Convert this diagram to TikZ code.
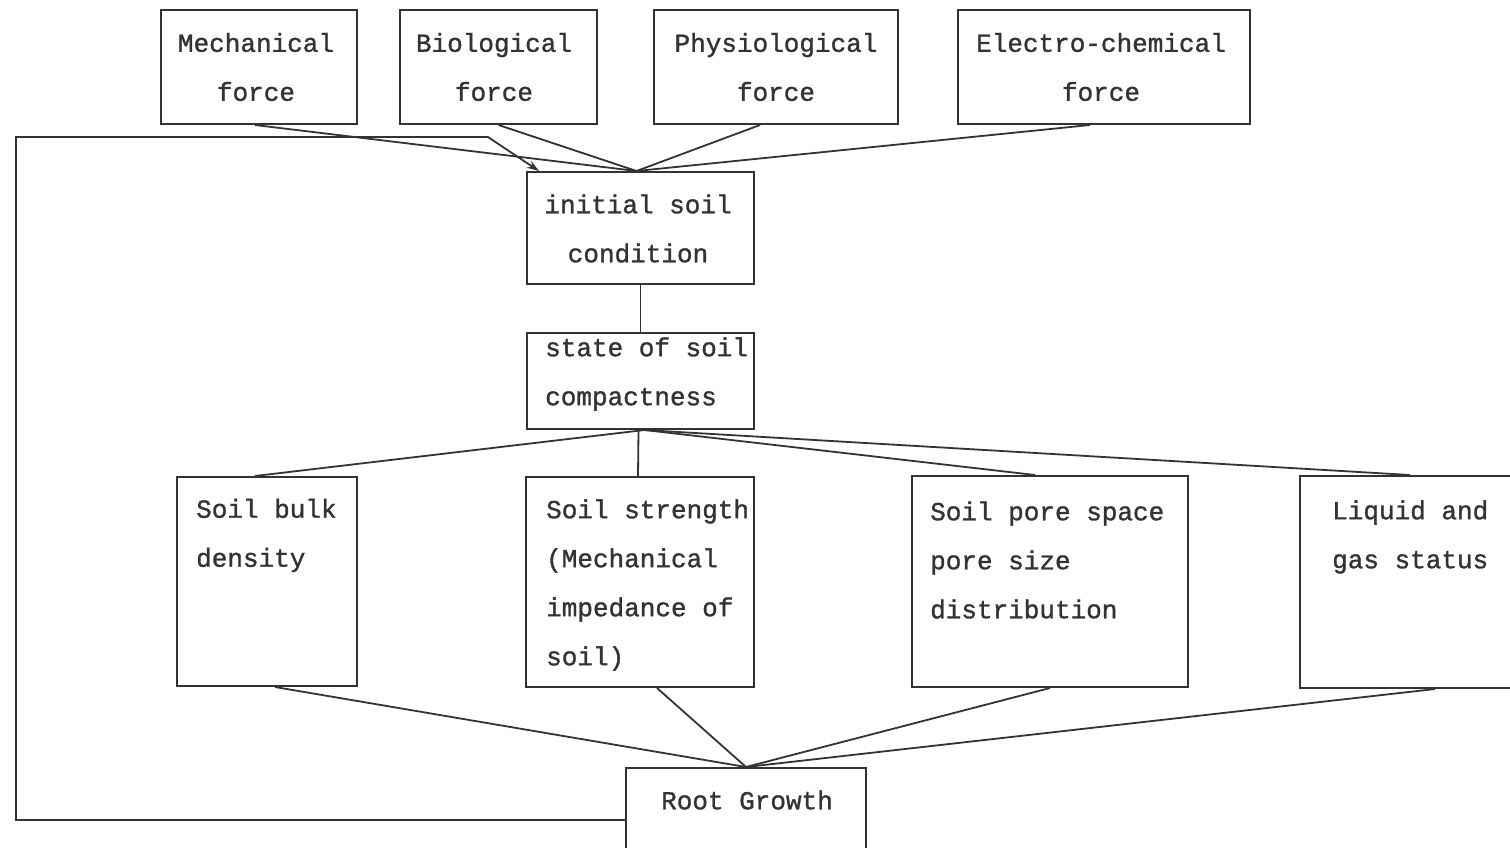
\documentclass[tikz,border=0pt]{standalone}
\usepackage{fontspec}
\newfontfamily\tw{Liberation Mono}[FakeBold=1.2]
\usetikzlibrary{arrows.meta,calc}
\definecolor{ink}{HTML}{333333}
\tikzset{
  box/.style={draw=ink, line width=2pt, inner sep=0pt, rectangle},
  conn/.style={draw=ink, line width=1.8pt},
  txt/.style={inner sep=0pt, text=ink, font={\tw\fontsize{26}{49}\selectfont}},
  ctxt/.style={txt, align=center},
  ltxt/.style={txt, align=left, anchor=west},
}
\begin{document}
\begin{tikzpicture}[x=1pt,y=-1pt]
\useasboundingbox (0,0) rectangle (1510,847);
% boxes
\node[box, minimum width=196pt, minimum height=114pt] (mech) at (259,67) {};
\node[box, minimum width=197pt, minimum height=114pt] (bio) at (498.5,67) {};
\node[box, minimum width=244pt, minimum height=114pt] (phys) at (776,67) {};
\node[box, minimum width=292pt, minimum height=114pt] (elec) at (1104,67) {};
\node[box, minimum width=227pt, minimum height=112pt] (init) at (640.5,228) {};
\node[box, minimum width=227pt, minimum height=96pt] (state) at (640.5,381) {};
\node[box, minimum width=180pt, minimum height=209pt] (bulk) at (267,581.5) {};
\node[box, minimum width=228pt, minimum height=210pt] (strength) at (640,582) {};
\node[box, minimum width=276pt, minimum height=211pt] (pore) at (1050,581.5) {};
\node[box, minimum width=220pt, minimum height=212pt] (liquid) at (1410,582) {};
\node[box, minimum width=240pt, minimum height=88pt] (root) at (746,812) {};
% texts
\node[ctxt] (tmech) at (256,67) {Mechanical\\force};
\node[ctxt] (tbio) at (494,67) {Biological\\force};
\node[ctxt] (tphys) at (776,67) {Physiological\\force};
\node[ctxt] (telec) at (1101,67) {Electro-chemical\\force};
\node[ctxt] (tinit) at (638,228.5) {initial soil\\condition};
\node[ltxt] (tstate) at (545,374) {state of soil\\compactness};
\node[ltxt] (tbulk) at (196,535.5) {Soil bulk\\density};
\node[ltxt] (tstrength) at (546,585) {Soil strength\\(Mechanical\\impedance of\\soil)};
\node[ltxt] (tpore) at (930,560) {Soil pore space\\pore size\\distribution};
\node[ltxt] (tliquid) at (1332,537) {Liquid and\\gas status};
\node[ctxt] (troot) at (747,800) {Root Growth};
% connectors: forces to initial
\draw[conn] ([xshift=-4pt]mech.south) -- ([xshift=-4pt]init.north);
\draw[conn] (bio.south) -- ([xshift=-4pt]init.north);
\draw[conn] ([xshift=-16pt]phys.south) -- ([xshift=-4pt]init.north);
\draw[conn] ([xshift=-14pt]elec.south) -- ([xshift=-4pt]init.north);
\draw[conn] (init.south) -- (state.south |- state.north);
% state to properties
\draw[conn] ([xshift=4pt]state.south) -- ([xshift=-12pt]bulk.north);
\draw[conn] ([xshift=-2pt]state.south) -- ([xshift=-2pt]strength.north);
\draw[conn] ([xshift=4pt]state.south) -- ([xshift=-15pt]pore.north);
\draw[conn] ([xshift=4pt]state.south) -- (liquid.north);
% properties to root growth
\draw[conn] ([xshift=8pt]bulk.south) -- (root.north);
\draw[conn] ([xshift=17pt]strength.south) -- (root.north);
\draw[conn] (pore.south) -- (root.north);
\draw[conn] ([xshift=25pt]liquid.south) -- (root.north);
% feedback loop
\coordinate (fbA) at (16,820);
\coordinate (fbB) at (16,137);
\coordinate (fbC) at (488,137);
\draw[conn, -{Stealth[length=12pt,width=8pt]}] ([yshift=-8pt]root.west) -- (fbA) -- (fbB) -- (fbC) -- ([xshift=13pt]init.north west);
\end{tikzpicture}
\end{document}
